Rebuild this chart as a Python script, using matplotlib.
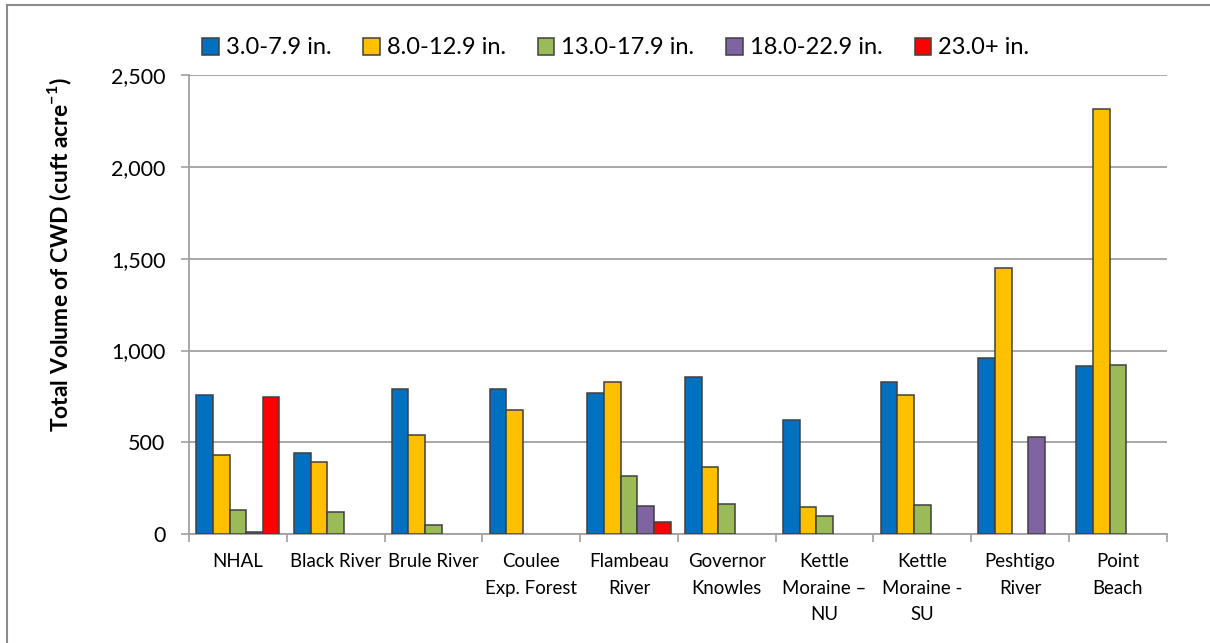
import numpy as np
import matplotlib
matplotlib.use("Agg")
import matplotlib.pyplot as plt
from matplotlib.lines import Line2D
from matplotlib.patches import Patch

plt.rcParams['font.family'] = ['Lato', 'DejaVu Sans']

# ---------------------------
# data (cuft per acre)
# ---------------------------
sites = ['NHAL', 'Black River', 'Brule River', 'Coulee\nExp. Forest', 'Flambeau\nRiver',
         'Governor\nKnowles', 'Kettle\nMoraine –\nNU', 'Kettle\nMoraine -\nSU',
         'Peshtigo\nRiver', 'Point\nBeach']
classes = ['3.0-7.9 in.', '8.0-12.9 in.', '13.0-17.9 in.', '18.0-22.9 in.', '23.0+ in.']
nan = np.nan
vol_3_8 = [760, 440, 788, 792, 770, 855, 622, 826, 959, 916]
vol_8_13 = [433, 393, 542, 677, 830, 367, 147, 757, 1451, 2315]
vol_13_18 = [133, 118, 51, nan, 315, 162, 96, 158, nan, 923]
vol_18_23 = [11, nan, nan, nan, 155, nan, nan, nan, 529, nan]
vol_23 = [746, nan, nan, nan, 67, nan, nan, nan, nan, nan]
series = [vol_3_8, vol_8_13, vol_13_18, vol_18_23, vol_23]
colors = ['#0070C0', '#FFC000', '#9BBB59', '#8064A2', '#FF0000']

# ---------------------------
# figure
# ---------------------------
fig = plt.figure(figsize=(12.1, 6.43), dpi=100)
ax = fig.add_axes([189/1210, 109/643, (1166.7-189)/1210, (534-75.3)/643])

x = np.arange(len(sites))
w = 0.17
for j, (vals, c) in enumerate(zip(series, colors)):
    ax.bar(x + (j - 2) * w, vals, width=w, color=c, edgecolor='#404040',
           linewidth=1.1, zorder=3, label=classes[j])

ax.set_xlim(-0.5, len(sites) - 0.5)
ax.set_ylim(0, 2500)
ax.set_yticks(np.arange(0, 2501, 500))
ax.set_yticklabels([f'{v:,}' for v in range(0, 2501, 500)], fontsize=15.5)
ax.yaxis.grid(True, color='#A0A0A0', linewidth=1.3, zorder=0)
ax.tick_params(axis='y', length=6, width=1.2, color='#A0A0A0', pad=11)

# category boundaries as major ticks, names on minor ticks
ax.set_xticks(np.arange(-0.5, len(sites), 1.0))
ax.set_xticklabels([])
ax.tick_params(axis='x', which='major', length=6, width=1.2, color='#A0A0A0')
ax.set_xticks(x, minor=True)
ax.set_xticklabels(sites, minor=True, fontsize=13.4, linespacing=1.68)
ax.tick_params(axis='x', which='minor', length=0, pad=14)

for s in ['top', 'right']:
    ax.spines[s].set_visible(False)
for s in ['left', 'bottom']:
    ax.spines[s].set_color('#A0A0A0')
    ax.spines[s].set_linewidth(1.3)

fig.text(60/1210, 1 - 255/643, 'Total Volume of CWD (cuft acre$^{\\mathregular{-1}}$)',
         rotation=90, ha='center', va='center', fontsize=16.5, fontweight='bold')

handles = [Patch(facecolor=c, edgecolor='#404040', linewidth=1.1) for c in colors]
fig.legend(handles, classes, loc='center left', bbox_to_anchor=(202/1210, 1 - 48/643),
           ncol=5, frameon=False, fontsize=17, handlelength=0.7, handleheight=0.7,
           handletextpad=0.3, columnspacing=1.35, borderaxespad=0, borderpad=0)

# outer chart border
fig.add_artist(Line2D([7/1210, 7/1210], [0, 1 - 5/643], color='#8C8C8C', linewidth=1.5))
fig.add_artist(Line2D([7/1210, 1], [1 - 5/643, 1 - 5/643], color='#8C8C8C', linewidth=1.5))

fig.savefig('out.png', dpi=100)
